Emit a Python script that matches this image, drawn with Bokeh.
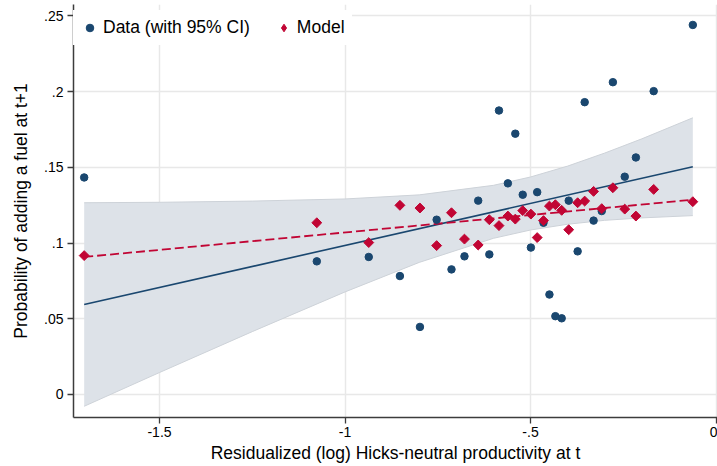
import numpy as np
from bokeh.plotting import figure
from bokeh.models import FixedTicker, Range1d, Legend, LegendItem, ColumnDataSource
from bokeh.embed import file_html
from bokeh.resources import INLINE

# ---- data ----
x_vals = [-1.703, -1.076, -0.936, -0.852, -0.798, -0.753, -0.713, -0.678, -0.641, -0.611,
          -0.585, -0.561, -0.541, -0.521, -0.499, -0.482, -0.465, -0.449, -0.433, -0.416,
          -0.397, -0.373, -0.354, -0.330, -0.308, -0.278, -0.246, -0.216, -0.168, -0.0625]
data_y = [0.1433, 0.0879, 0.0908, 0.0782, 0.0446, 0.1154, 0.0826, 0.0912, 0.1280, 0.0925,
          0.1875, 0.1394, 0.1722, 0.1319, 0.0970, 0.1336, 0.1134, 0.0660, 0.0517, 0.0503,
          0.1280, 0.0945, 0.1930, 0.1148, 0.1211, 0.2062, 0.1438, 0.1565, 0.2003, 0.2440]
model_y = [0.0917, 0.1134, 0.1003, 0.1249, 0.1231, 0.0983, 0.1200, 0.1026, 0.0987, 0.1154,
           0.1115, 0.1178, 0.1158, 0.1214, 0.1191, 0.1036, 0.1148, 0.1244, 0.1253, 0.1216,
           0.1088, 0.1266, 0.1277, 0.1341, 0.1227, 0.1365, 0.1224, 0.1178, 0.1354, 0.1273]

fit_x = [-1.703, -0.0625]
data_fit_y = [0.0594, 0.1504]
model_fit_y = [0.0908, 0.1286]

band_x = [-1.703, -1.5, -1.25, -1.0, -0.8, -0.6, -0.5, -0.4, -0.3, -0.2, -0.0625]
band_hi = [0.1266, 0.1269, 0.1277, 0.1291, 0.1318, 0.1381, 0.1436, 0.1508, 0.1594, 0.1688, 0.1827]
band_lo = [-0.0078, 0.0145, 0.0415, 0.0677, 0.0872, 0.1031, 0.1086, 0.1124, 0.1150, 0.1166, 0.1181]

x_ticks = [-1.5, -1.0, -0.5, 0.0]
x_labels = ["-1.5", "-1", "-.5", "0"]
y_ticks = [0.0, 0.05, 0.1, 0.15, 0.2, 0.25]
y_labels = ["0", ".05", ".1", ".15", ".2", ".25"]

BLUE = "#1a476f"
RED = "#c10534"
BAND = "#dde2e8"
FONT = "Liberation Sans"

W, H = 717, 466
p = figure(width=W, height=H, output_backend="svg", toolbar_location=None,
           x_range=Range1d(-1.7318, 0.0040), y_range=Range1d(-0.0152, 0.2575),
           min_border_left=73, min_border_right=0, min_border_top=4, min_border_bottom=49,
           background_fill_color="white", border_fill_color="white")
p.outline_line_color = None

# CI band
p.varea(x=band_x, y1=band_lo, y2=band_hi, fill_color=BAND, fill_alpha=1)
p.line(band_x, band_hi, line_color="#cdd2d8", line_width=1)
p.line(band_x, band_lo, line_color="#cdd2d8", line_width=1)

# fit lines
p.line(fit_x, data_fit_y, line_color=BLUE, line_width=1.6)
p.line(fit_x, model_fit_y, line_color=RED, line_width=1.8, line_dash="9 4")

src = ColumnDataSource(dict(x=x_vals, d=data_y, m=model_y))
dots = p.scatter("x", "d", source=src, marker="circle", size=7.5,
                 fill_color=BLUE, line_color=BLUE)
# narrow diamond (used for the legend glyph), hidden under the rotated squares
leg_diamond = p.scatter("x", "m", source=src, marker="diamond", size=7,
                        fill_color=RED, line_color=RED)
p.scatter("x", "m", source=src, marker="square", size=7, angle=np.pi / 4,
          fill_color=RED, line_color=RED)

# axes
p.xaxis.ticker = FixedTicker(ticks=x_ticks)
p.xaxis.major_label_overrides = dict(zip(x_ticks, x_labels))
p.yaxis.ticker = FixedTicker(ticks=y_ticks)
p.yaxis.major_label_overrides = dict(zip(y_ticks, y_labels))
p.xaxis.axis_label = "Residualized (log) Hicks-neutral productivity at t"
p.yaxis.axis_label = "Probability of adding a fuel at t+1"
for ax in (p.xaxis, p.yaxis):
    ax.axis_line_color = "#3c3c3c"
    ax.axis_line_width = 1.5
    ax.major_tick_line_color = "#3c3c3c"
    ax.major_tick_line_width = 1.3
    ax.major_tick_out = 6
    ax.major_tick_in = 0
    ax.minor_tick_line_color = None
    ax.major_label_text_font = FONT
    ax.major_label_text_font_size = "14px"
    ax.major_label_text_color = "black"
    ax.axis_label_text_font = FONT
    ax.axis_label_text_font_size = "17.5px"
    ax.axis_label_text_font_style = "normal"
    ax.axis_label_text_color = "black"
p.xaxis.major_label_standoff = 3
p.xaxis.axis_label_standoff = 3
p.yaxis.major_label_standoff = 4
p.yaxis.axis_label_standoff = 10

p.xgrid.grid_line_color = "#e8e8e8"
p.ygrid.grid_line_color = "#e8e8e8"
p.xgrid.grid_line_width = 1.5
p.ygrid.grid_line_width = 1.5

legend = Legend(items=[LegendItem(label="Data (with 95% CI)", renderers=[dots]),
                       LegendItem(label="Model", renderers=[leg_diamond])],
                location=(0, 372), orientation="horizontal",
                background_fill_color="white", background_fill_alpha=1,
                border_line_alpha=0, label_text_font=FONT,
                label_text_font_size="17.5px", label_text_color="black",
                glyph_width=19, glyph_height=19, label_standoff=4,
                spacing=24, padding=7, margin=0)
p.add_layout(legend)

open("out.html", "w").write(file_html(p, INLINE))
